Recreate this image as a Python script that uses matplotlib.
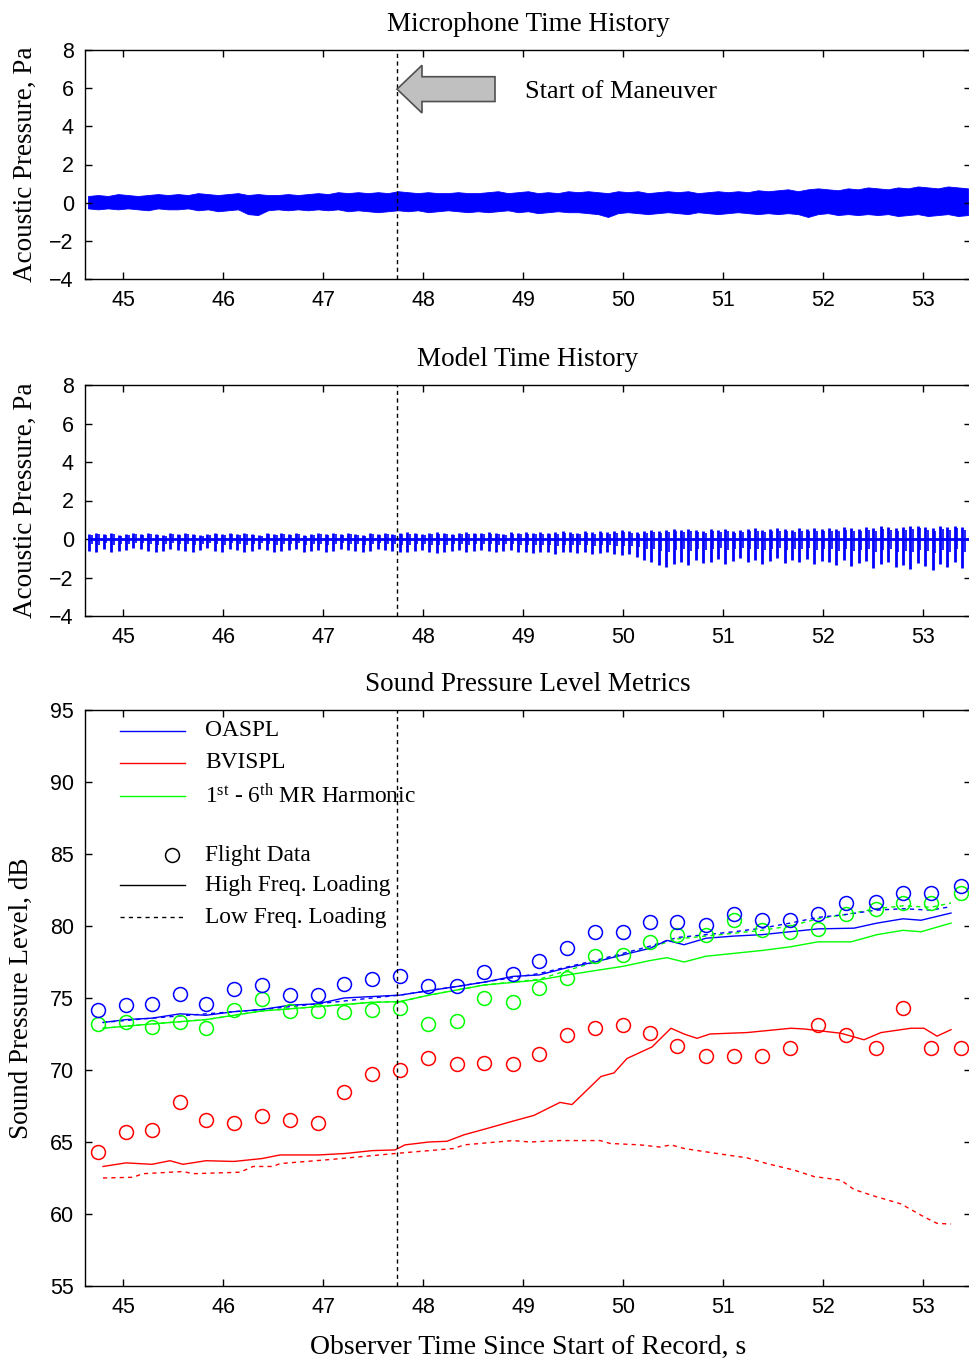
import numpy as np
import matplotlib
matplotlib.use("Agg")
import matplotlib.pyplot as plt
from matplotlib.patches import FancyArrow

plt.rcParams['font.family'] = ['Liberation Sans', 'DejaVu Sans']
plt.rcParams['mathtext.default'] = 'regular'
SERIF = ['Liberation Serif', 'DejaVu Serif']

# --- Microphone time history: envelope read every 0.1 s, Pa
mic_t0, mic_dt = 44.65, 0.1
mic_upper = [0.35, 0.4, 0.35, 0.45, 0.4, 0.35, 0.4, 0.45, 0.4,
             0.45, 0.4, 0.5, 0.45, 0.4, 0.45, 0.5, 0.4, 0.45, 0.4,
             0.4, 0.45, 0.4, 0.45, 0.5, 0.45, 0.55, 0.5, 0.55, 0.5,
             0.55, 0.5, 0.6, 0.55, 0.5, 0.55, 0.5, 0.5, 0.55, 0.5,
             0.5, 0.55, 0.6, 0.5, 0.55, 0.6, 0.5, 0.55, 0.5, 0.6,
             0.55, 0.6, 0.55, 0.5, 0.6, 0.55, 0.6, 0.5, 0.55, 0.6,
             0.55, 0.6, 0.5, 0.55, 0.6, 0.55, 0.6, 0.55, 0.65, 0.6,
             0.65, 0.7, 0.6, 0.7, 0.75, 0.7, 0.65, 0.75, 0.7, 0.8,
             0.75, 0.7, 0.8, 0.75, 0.85, 0.8, 0.75, 0.85, 0.8, 0.75]
mic_lower = [-0.3, -0.35, -0.3, -0.35, -0.3, -0.35, -0.4, -0.3, -0.35,
             -0.35, -0.3, -0.4, -0.35, -0.45, -0.4, -0.35, -0.6, -0.65, -0.4,
             -0.35, -0.4, -0.35, -0.4, -0.35, -0.4, -0.35, -0.45, -0.4, -0.45,
             -0.5, -0.45, -0.4, -0.45, -0.4, -0.5, -0.45, -0.4, -0.45, -0.5,
             -0.45, -0.5, -0.45, -0.4, -0.5, -0.45, -0.55, -0.5, -0.45, -0.5,
             -0.5, -0.55, -0.6, -0.75, -0.55, -0.5, -0.55, -0.6, -0.55, -0.5,
             -0.55, -0.6, -0.5, -0.55, -0.6, -0.55, -0.5, -0.55, -0.6, -0.55,
             -0.6, -0.55, -0.6, -0.75, -0.6, -0.55, -0.65, -0.6, -0.65, -0.6,
             -0.65, -0.6, -0.7, -0.65, -0.6, -0.7, -0.65, -0.6, -0.7, -0.65]

# --- Model time history: one pulse per blade passage (period ~0.074 s)
pulse_t0, pulse_dt = 44.66, 0.074
model_low = [-0.6, -0.65, -0.5, -0.65, -0.6, -0.55, -0.45, -0.5, -0.6, -0.65,
             -0.6, -0.5, -0.55, -0.6, -0.65, -0.55, -0.45, -0.6, -0.65, -0.5,
             -0.55, -0.65, -0.6, -0.5, -0.55, -0.65, -0.6, -0.55, -0.5, -0.65,
             -0.6, -0.55, -0.65, -0.6, -0.5, -0.55, -0.6, -0.65, -0.6, -0.5,
             -0.55, -0.6, -0.7, -0.65, -0.6, -0.55, -0.7, -0.75, -0.65, -0.6,
             -0.55, -0.65, -0.6, -0.55, -0.6, -0.65, -0.6, -0.55, -0.65, -0.7,
             -0.75, -0.65, -0.7, -0.8, -0.7, -0.65, -0.75, -0.7, -0.8, -0.75,
             -0.7, -0.8, -0.85, -0.8, -0.95, -1.1, -1.2, -1.35, -1.45, -1.3,
             -1.2, -1.35, -1.1, -1.25, -1.2, -1.05, -1.3, -1.15, -1.0, -1.2,
             -1.1, -1.3, -1.15, -1.0, -1.25, -1.1, -1.2, -1.05, -1.3, -1.15,
             -1.2, -1.35, -1.1, -1.4, -1.25, -1.15, -1.5, -1.3, -1.2, -1.45,
             -1.35, -1.55, -1.25, -1.4, -1.6, -1.3, -1.45, -1.2, -1.5, -1.55]
model_high = [0.25, 0.3, 0.25, 0.3, 0.2, 0.25, 0.3, 0.25, 0.3, 0.25,
              0.2, 0.3, 0.25, 0.3, 0.25, 0.2, 0.25, 0.3, 0.25, 0.3,
              0.25, 0.3, 0.25, 0.2, 0.3, 0.25, 0.3, 0.25, 0.3, 0.2,
              0.25, 0.3, 0.25, 0.3, 0.25, 0.3, 0.25, 0.2, 0.3, 0.25,
              0.3, 0.25, 0.3, 0.35, 0.3, 0.25, 0.3, 0.35, 0.3, 0.25,
              0.3, 0.35, 0.3, 0.3, 0.35, 0.3, 0.25, 0.35, 0.3, 0.35,
              0.3, 0.35, 0.3, 0.35, 0.4, 0.35, 0.3, 0.4, 0.35, 0.4,
              0.35, 0.4, 0.45, 0.4, 0.35, 0.4, 0.45, 0.4, 0.45, 0.5,
              0.45, 0.5, 0.45, 0.4, 0.5, 0.45, 0.5, 0.4, 0.45, 0.5,
              0.55, 0.45, 0.5, 0.55, 0.5, 0.45, 0.55, 0.5, 0.55, 0.5,
              0.55, 0.5, 0.6, 0.55, 0.5, 0.6, 0.55, 0.65, 0.6, 0.55,
              0.6, 0.65, 0.7, 0.6, 0.55, 0.65, 0.6, 0.7, 0.6, 0.65]

maneuver_t = 47.74

# --- Sound pressure level metrics, dB
flight_t = [44.75, 45.03, 45.29, 45.57, 45.83, 46.11, 46.39, 46.67, 46.95, 47.21, 47.49,
            47.77, 48.05, 48.34, 48.61, 48.90, 49.16, 49.44, 49.72, 50.00, 50.27, 50.54,
            50.83, 51.11, 51.39, 51.67, 51.95, 52.23, 52.53, 52.80, 53.08, 53.38]
oaspl_flight = [74.2, 74.5, 74.6, 75.3, 74.6, 75.6, 75.9, 75.2, 75.2, 76.0, 76.3,
                76.5, 75.8, 75.8, 76.8, 76.7, 77.6, 78.5, 79.6, 79.6, 80.3, 80.3,
                80.1, 80.8, 80.4, 80.4, 80.8, 81.6, 81.7, 82.3, 82.3, 82.8]
harm_flight = [73.2, 73.3, 73.0, 73.3, 72.9, 74.2, 74.9, 74.1, 74.1, 74.0, 74.2,
               74.3, 73.2, 73.4, 75.0, 74.7, 75.7, 76.4, 77.9, 78.0, 78.9, 79.4,
               79.4, 80.4, 79.7, 79.6, 79.8, 80.8, 81.2, 81.6, 81.6, 82.3]
bvi_flight = [64.3, 65.7, 65.8, 67.8, 66.5, 66.3, 66.8, 66.5, 66.3, 68.5, 69.7,
              70.0, 70.8, 70.4, 70.5, 70.4, 71.1, 72.4, 72.9, 73.1, 72.6, 71.7,
              71.0, 71.0, 71.0, 71.5, 73.1, 72.4, 71.5, 74.3, 71.5, 71.5]

oaspl_hf_t = [44.80, 45.03, 45.29, 45.57, 45.83, 46.11, 46.39, 46.67, 46.95, 47.21, 47.49,
              47.77, 48.05, 48.34, 48.61, 48.90, 49.16, 49.44, 49.72, 50.00, 50.27, 50.44,
              50.61, 50.83, 51.11, 51.39, 51.67, 51.95, 52.31, 52.54, 52.80, 52.98, 53.28]
oaspl_hf = [73.3, 73.5, 73.6, 73.9, 73.8, 74.05, 74.2, 74.5, 74.6, 75.0, 75.1,
            75.2, 75.5, 75.8, 76.1, 76.5, 76.6, 77.1, 77.5, 78.0, 78.45, 79.0,
            78.7, 79.15, 79.3, 79.4, 79.6, 79.8, 79.85, 80.2, 80.5, 80.4, 80.9]
oaspl_lf_t = [44.80, 45.29, 45.83, 46.39, 46.95, 47.49, 47.77, 48.05, 48.61, 49.16, 49.72,
              50.00, 50.27, 50.54, 50.83, 51.11, 51.39, 51.67, 51.95, 52.23, 52.53, 52.80,
              53.08, 53.28]
oaspl_lf = [73.3, 73.6, 73.9, 74.2, 74.6, 75.0, 75.2, 75.5, 76.1, 76.7, 77.6,
            78.1, 78.6, 79.2, 79.4, 79.6, 79.85, 80.2, 80.6, 80.8, 81.1, 81.2,
            81.1, 81.35]
harm_hf_t = [44.80, 45.29, 45.83, 46.39, 46.95, 47.49, 47.77, 48.06, 48.61, 49.16, 49.44,
             49.72, 50.00, 50.27, 50.44, 50.61, 50.83, 51.11, 51.39, 51.67, 51.95, 52.28,
             52.54, 52.80, 52.98, 53.28]
harm_hf = [72.9, 73.2, 73.5, 74.1, 74.4, 74.7, 74.75, 75.2, 75.9, 76.25, 76.6,
           76.9, 77.2, 77.6, 77.8, 77.5, 77.9, 78.1, 78.3, 78.55, 78.9, 78.9,
           79.4, 79.7, 79.6, 80.2]
harm_lf_t = [44.80, 45.29, 45.83, 46.39, 46.95, 47.49, 47.77, 48.06, 48.61, 49.16, 49.44,
             49.72, 50.00, 50.27, 50.54, 50.83, 51.11, 51.39, 51.67, 51.95, 52.23, 52.53,
             52.80, 53.08, 53.28]
harm_lf = [72.9, 73.2, 73.5, 74.1, 74.4, 74.7, 74.75, 75.2, 75.9, 76.3, 76.9,
           77.5, 78.0, 78.5, 79.1, 79.3, 79.5, 79.7, 80.0, 80.5, 80.8, 81.2,
           81.4, 81.3, 81.6]
bvi_hf_t = [44.80, 45.03, 45.29, 45.47, 45.60, 45.83, 46.11, 46.39, 46.57, 46.95, 47.22,
            47.49, 47.72, 47.82, 48.06, 48.24, 48.41, 48.62, 48.90, 49.11, 49.37, 49.49,
            49.78, 49.91, 50.04, 50.29, 50.48, 50.61, 50.74, 50.87, 51.24, 51.68, 51.81,
            52.18, 52.41, 52.58, 52.88, 53.01, 53.14, 53.28]
bvi_hf = [63.3, 63.55, 63.45, 63.7, 63.45, 63.7, 63.65, 63.85, 64.1, 64.1, 64.2,
          64.4, 64.45, 64.8, 65.0, 65.05, 65.5, 65.9, 66.45, 66.85, 67.75, 67.6,
          69.55, 69.8, 70.8, 71.6, 72.9, 72.5, 72.2, 72.5, 72.6, 72.9, 72.85,
          72.55, 72.1, 72.6, 72.9, 72.9, 72.35, 72.8]
bvi_lf_t = [44.80, 45.10, 45.20, 45.60, 45.70, 46.17, 46.30, 46.50, 46.57, 47.10, 47.72,
            48.31, 48.41, 48.90, 49.07, 49.37, 49.77, 49.87, 50.17, 50.37, 50.48, 50.61,
            50.94, 51.24, 51.44, 51.71, 51.91, 52.18, 52.31, 52.51, 52.78, 53.01, 53.14,
            53.28]
bvi_lf = [62.5, 62.55, 62.8, 62.95, 62.8, 62.9, 63.3, 63.3, 63.5, 63.8, 64.2,
          64.55, 64.8, 65.1, 65.0, 65.1, 65.1, 64.9, 64.8, 64.65, 64.8, 64.55,
          64.2, 63.9, 63.5, 63.05, 62.6, 62.35, 61.7, 61.25, 60.7, 59.8, 59.35,
          59.3]

BLUE, RED, GREEN = '#0000FF', '#FF0000', '#00FF00'
XLIM = (44.62, 53.48)
W, H = 969, 1362
LABEL_FS = 19.5

fig = plt.figure(figsize=(W / 100, H / 100), dpi=100)


def make_axes(top_px, bot_px):
    left = 85 / W
    ax = fig.add_axes([left, 1 - bot_px / H, 886 / W, (bot_px - top_px) / H])
    ax.set_xlim(*XLIM)
    ax.set_xticks(range(45, 54))
    ax.tick_params(direction='in', top=True, right=True, length=5, width=1,
                   labelsize=15.5, pad=8)
    for s in ax.spines.values():
        s.set_linewidth(1.0)
    ax.axvline(maneuver_t, color='black', lw=1.0, ls=(0, (3, 2.5)), zorder=5)
    return ax


# Panel 1
ax1 = make_axes(50, 279)
mic_t = mic_t0 + mic_dt * np.arange(len(mic_upper))
ax1.fill_between(mic_t, mic_lower, mic_upper, color=BLUE, lw=0.6, edgecolor=BLUE)
ax1.set_ylim(-4, 8)
ax1.set_yticks(range(-4, 9, 2))
ax1.set_title('Microphone Time History', family=SERIF, fontsize=LABEL_FS, pad=14)
ax1.set_ylabel('Acoustic Pressure, Pa', family=SERIF, fontsize=LABEL_FS)
ax1.yaxis.set_label_coords(-0.053, 0.5)
ax1.add_patch(FancyArrow(48.72, 5.95, -0.98, 0, width=1.3, head_width=2.5,
                         head_length=0.25, length_includes_head=True,
                         facecolor='#C0C0C0', edgecolor='#505050', lw=1.2, zorder=6))
ax1.text(49.02, 5.8, 'Start of Maneuver', family=SERIF, fontsize=19,
         ha='left', va='center')

# Panel 2
ax2 = make_axes(385, 616)
pulse_t = pulse_t0 + pulse_dt * np.arange(len(model_low))
ax2.plot(pulse_t, np.zeros(len(pulse_t)), color=BLUE, lw=2.0)
ax2.vlines(pulse_t, model_low, model_high, color=BLUE, lw=2.0)
ax2.vlines(pulse_t + pulse_dt * 0.35, np.array(model_low) * 0.45,
           np.array(model_high) * 0.8, color=BLUE, lw=1.2)
ax2.set_ylim(-4, 8)
ax2.set_yticks(range(-4, 9, 2))
ax2.set_title('Model Time History', family=SERIF, fontsize=LABEL_FS, pad=14)
ax2.set_ylabel('Acoustic Pressure, Pa', family=SERIF, fontsize=LABEL_FS)
ax2.yaxis.set_label_coords(-0.053, 0.5)

# Panel 3
ax3 = make_axes(710, 1286)
ax3.plot(bvi_lf_t, bvi_lf, color=RED, lw=1.0, ls=(0, (3, 3)))
ax3.plot(harm_lf_t, harm_lf, color=GREEN, lw=1.0, ls=(0, (3, 3)))
ax3.plot(oaspl_lf_t, oaspl_lf, color=BLUE, lw=1.0, ls=(0, (3, 3)))
ax3.plot(bvi_hf_t, bvi_hf, color=RED, lw=1.0)
ax3.plot(harm_hf_t, harm_hf, color=GREEN, lw=1.0)
ax3.plot(oaspl_hf_t, oaspl_hf, color=BLUE, lw=1.0)
for vals, c in [(bvi_flight, RED), (harm_flight, GREEN), (oaspl_flight, BLUE)]:
    ax3.plot(flight_t, vals, ls='none', marker='o', ms=10, mfc='none', mec=c, mew=1.1)
ax3.set_ylim(55, 95)
ax3.set_yticks(range(55, 96, 5))
ax3.set_title('Sound Pressure Level Metrics', family=SERIF, fontsize=LABEL_FS, pad=14)
ax3.set_ylabel('Sound Pressure Level, dB', family=SERIF, fontsize=LABEL_FS)
ax3.yaxis.set_label_coords(-0.058, 0.5)
ax3.set_xlabel('Observer Time Since Start of Record, s', family=SERIF,
               fontsize=LABEL_FS + 0.5, labelpad=12)

# legend drawn by hand (no frame, like the original)
def ax_x(px):
    return (px - 85) / 886


def ax_y(py):
    return (1286 - py) / 576


legend_rows = [
    (731, dict(color=BLUE, lw=1.0), 'OASPL'),
    (763, dict(color=RED, lw=1.0), 'BVISPL'),
    (796, dict(color=GREEN, lw=1.0), '1$^{st}$ - 6$^{th}$ MR Harmonic'),
    (885, dict(color='black', lw=1.0), 'High Freq. Loading'),
    (917, dict(color='black', lw=1.0, ls=(0, (3, 3))), 'Low Freq. Loading'),
]
for py, style, label in legend_rows:
    ax3.plot([ax_x(120), ax_x(185)], [ax_y(py)] * 2, transform=ax3.transAxes, **style)
    ax3.text(ax_x(205), ax_y(py), label, transform=ax3.transAxes, family=SERIF,
             fontsize=16.8, va='center', ha='left')
ax3.plot([ax_x(172)], [ax_y(855)], transform=ax3.transAxes, marker='o', ms=10,
         mfc='none', mec='black', mew=1.1)
ax3.text(ax_x(205), ax_y(855), 'Flight Data', transform=ax3.transAxes, family=SERIF,
         fontsize=16.8, va='center', ha='left')

fig.savefig('out.png', dpi=100)
